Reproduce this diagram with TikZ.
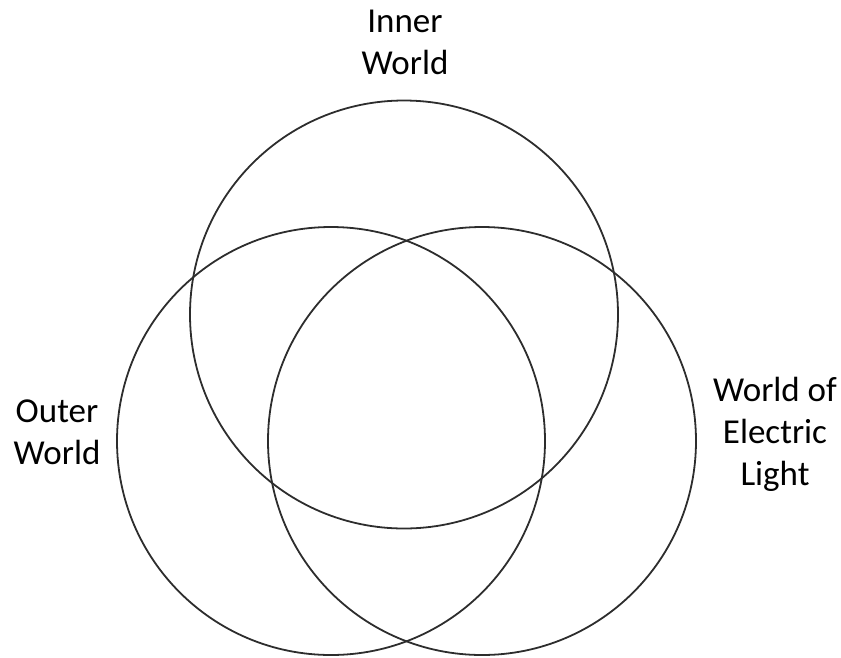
\documentclass[tikz,border=0pt]{standalone}
\usepackage{fontspec}
\setmainfont{Carlito}
\usepackage{tikz}
\usetikzlibrary{positioning}
\definecolor{ringcolor}{RGB}{45,45,45}

\begin{document}
\begin{tikzpicture}[
    x=1pt, y=-1pt,
    every node/.style={font=\fontsize{35}{42}\selectfont, align=center, inner sep=0pt},
    ring/.style={draw=ringcolor, line width=1.8pt, circle, minimum size=428pt},
]
    \useasboundingbox (0,0) rectangle (841,657);

    % Circles
    \node[ring] (inner) at (404, 314.5) {};
    \node[ring] (outer) at (331, 441) {};
    \node[ring] (electric) at (482, 441) {};

    % Labels
    \node (innerlabel) at (405, 42) {Inner\\World};
    \node (outerlabel) at (57, 432) {Outer\\World};
    \node (electriclabel) at (775, 434) {World of\\Electric\\Light};
\end{tikzpicture}
\end{document}
